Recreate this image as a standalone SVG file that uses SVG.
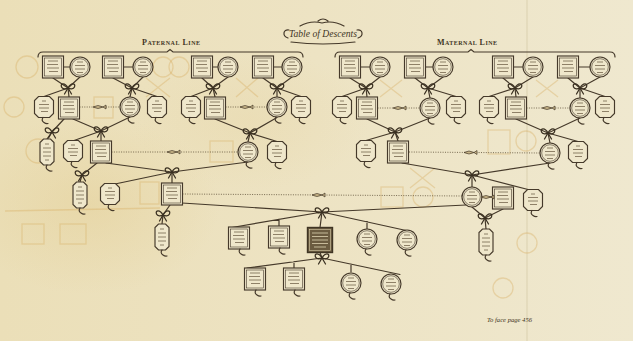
<svg xmlns="http://www.w3.org/2000/svg" xmlns:xlink="http://www.w3.org/1999/xlink" width="633" height="341" viewBox="0 0 633 341">
<style>
.ln{stroke:#45392a;stroke-width:1.2;fill:none;stroke-linecap:round}
.kn{stroke:#3a3021;stroke-width:1.25;fill:none;stroke-linecap:round}
.dt{stroke:#5a4c35;stroke-width:0.8;stroke-dasharray:1 1.4;fill:none}
.sh{fill:#efe7cb;stroke:#45392a;stroke-width:1.15}
.in{fill:none;stroke:#45392a;stroke-width:0.6}
.tx{stroke:#5e4e35;stroke-width:0.9;opacity:0.75;fill:none}
.gh{fill:none;stroke:#d8ad60;stroke-width:1.3;opacity:0.38}
.hd{font-family:"Liberation Serif","DejaVu Serif",serif;font-variant:small-caps;font-weight:bold;font-size:8px;fill:#3f3524}
.it{font-family:"Liberation Serif","DejaVu Serif",serif;font-style:italic;fill:#3f3524}
</style>
<defs>
<linearGradient id="bg" x1="0" x2="1" y1="0" y2="0">
<stop offset="0" stop-color="#ebdfb8"/><stop offset="0.5" stop-color="#ede3c3"/><stop offset="1" stop-color="#efe8cf"/>
</linearGradient>
<radialGradient id="st"><stop offset="0" stop-color="#e3cd92" stop-opacity="0.45"/><stop offset="1" stop-color="#e3cd92" stop-opacity="0"/></radialGradient>
<g id="bx"><rect class="sh" x="-10.5" y="-11" width="21" height="22"/><rect class="in" x="-8.5" y="-9" width="17" height="18"/><path class="tx" d="M-5,-6h10M-6,-2.5h11M-6,1h12M-4,4.5h9"/></g>
<g id="ci"><circle class="sh" r="10"/><circle class="in" r="8.3"/><path class="tx" d="M-3,-5h6M-5,-1.5h10M-5,2h10M-3,5.5h6"/></g>
<g id="oc"><polygon class="sh" points="-5.5,-10.5 5.5,-10.5 9.5,-6.5 9.5,6.5 5.5,10.5 -5.5,10.5 -9.5,6.5 -9.5,-6.5"/><path class="tx" d="M-2,-6h4M-5,-2.5h10M-5,1h10M-3,4.5h7"/></g>
<g id="to"><polygon class="sh" points="-3.5,-13 3.5,-13 7,-9.5 7,9.5 3.5,13 -3.5,13 -7,9.5 -7,-9.5"/><path class="tx" d="M-2,-8h4M-4,-4h8M-4,0h8M-4,4h8M-2,8h4"/></g>
<path id="tl" class="ln" d="M0,0 q-2,3 1,5 q2,1.5 4,1"/>
<path id="kn" class="kn" d="M0,0 C-3,-6 -8,-5 -6.5,-1 C-5.5,1.5 -2,1 0,0 M0,0 C3,-6 8,-5 6.5,-1 C5.5,1.5 2,1 0,0 M0,0 L-3.5,6 M0,0 L3.5,6"/>
<path id="or" d="M-6,0 Q-1,-3 4,0 Q-1,3 -6,0 Z M4,0 L7,-2 L7,2 Z" fill="#c9b689" stroke="#45392a" stroke-width="0.7"/>
</defs>

<rect width="633" height="341" fill="url(#bg)"/>
<ellipse cx="90" cy="205" rx="130" ry="90" fill="url(#st)"/>
<ellipse cx="250" cy="120" rx="120" ry="70" fill="url(#st)" opacity="0.5"/>
<line x1="527" y1="0" x2="527" y2="341" stroke="#d9cfae" stroke-width="2" opacity="0.45"/>

<g id="ghosts">
<circle class="gh" cx="27" cy="67" r="11"/><circle class="gh" cx="163" cy="67" r="10"/><circle class="gh" cx="179" cy="67" r="10"/>
<circle class="gh" cx="14" cy="107" r="10"/><rect class="gh" x="94" y="97" width="19" height="21"/>
<path class="gh" d="M146,78 L170,97 M170,78 L146,97 M236,78 L258,97 M258,78 L236,97 M380,80 L402,97 M402,80 L380,97 M536,80 L558,97 M558,80 L536,97 M410,168 L435,188 M435,168 L410,188 M5,211 L160,208"/>
<circle class="gh" cx="38" cy="151" r="12"/><rect class="gh" x="210" y="141" width="23" height="21"/>
<rect class="gh" x="488" y="130" width="22" height="24"/><circle class="gh" cx="526" cy="141" r="10"/>
<rect class="gh" x="140" y="182" width="19" height="22"/><rect class="gh" x="381" y="187" width="22" height="20"/><circle class="gh" cx="423" cy="197" r="10"/>
<rect class="gh" x="22" y="224" width="22" height="20"/><rect class="gh" x="60" y="224" width="26" height="20"/>
<circle class="gh" cx="527" cy="243" r="10"/><circle class="gh" cx="503" cy="288" r="10"/>
</g>

<g id="titles">
<path class="ln" stroke-width="0.9" d="M288,38 c-6,-2 -5,-9 1,-8 M358,38 c6,-2 5,-9 -1,-8 M300,26 q11,-6 22,-3 q11,-3 22,3 M318,21 q5,-4 10,0 M291,42 q32,4 64,0"/>
<text class="it" x="323" y="37" font-size="10" text-anchor="middle" textLength="68" lengthAdjust="spacingAndGlyphs">Table of Descents</text>
<text class="hd" x="171" y="45" text-anchor="middle" textLength="58" lengthAdjust="spacing">Paternal Line</text>
<text class="hd" x="467" y="45" text-anchor="middle" textLength="60" lengthAdjust="spacing">Maternal Line</text>
<path class="ln" d="M38,57 Q38,52 43,52 L167,52 L170,49.5 L173,52 L298,52 Q303,52 303,57"/>
<path class="ln" d="M335,57 Q335,52 340,52 L468,52 L471,49.5 L474,52 L610,52 Q615,52 615,57"/>
<text class="it" x="487" y="322" font-size="5.5" textLength="45" lengthAdjust="spacingAndGlyphs">To face page 456</text>
</g>

<g id="connectors">
<path class="ln" d="M63.5,67H70M123.5,67H133M212.5,67H218M273.5,67H282M360.5,67H370M425.5,67H433M513.5,67H523M578.5,67H590"/>
<path class="ln" d="M53,78L68,88M80,77L68,88L44,96.5M68,88L69,97
M113,78L132,88M143,77L132,88L130,97M132,88L157,96.5
M202,78L213,88M228,77L213,88L191,96.5M213,88L215,97
M263,78L277,88M292,77L277,88L277,97M277,88L301,96.5
M350,78L366,88M380,77L366,88L342,96.5M366,88L367,97
M415,78L428,88M443,77L428,88L430,98M428,88L456,96.5
M503,78L515,88M533,77L515,88L489,96.5M515,88L516,97
M568,78L580,88M600,77L580,88L580,98M580,88L605,96.5"/>
<path class="ln" d="M64,119L52,132L47,139
M73,119L101,131M130,117L101,131L74,140.5M101,131L101,141
M215,119L250,133M277,117.5L250,133L248,142M250,133L277,141.5
M367,119L395,132M430,118L395,132L366,140.5M395,132L398,141
M516,119L548,133M580,118L548,133L550,143M548,133L578,141.5"/>
<path class="ln" d="M97,163L82,175L80,182
M106,163L172,172M248,162L172,172L115,184M172,172L172,183
M402,163L472,175M550,163L472,175L472,187M472,175L530,190"/>
<path class="ln" d="M170,205L163,215L162,224
M472,207L485,218M503,209L485,218L486,229
M182,203L322,212M466,205L322,212
M322,212L232,227.5M279,219.4L279,226.5M322,212L320,227.5M322,212L413,232M367,221.7L367,229"/>
<path class="ln" d="M320,252.5L322,258M322,258L247,268M294,261.7L294,268M322,258L400,274.5M351,264.2L351,272"/>
<path class="ln" d="M482,197H492.5"/>
<path class="dt" d="M79.5,107H120M225.5,107H267M377.5,108H420M526.5,108H570M111.5,152H238M409,152L540,153M182.5,194L462,196"/>
<use href="#or" x="99" y="107"/><use href="#or" x="246" y="107"/><use href="#or" x="399" y="108"/><use href="#or" x="548" y="108"/>
<use href="#or" x="173" y="152"/><use href="#or" x="470" y="152.5"/><use href="#or" x="318" y="195"/>
<use href="#kn" x="68" y="88"/><use href="#kn" x="132" y="88"/><use href="#kn" x="213" y="88"/><use href="#kn" x="277" y="88"/>
<use href="#kn" x="366" y="88"/><use href="#kn" x="428" y="88"/><use href="#kn" x="515" y="88"/><use href="#kn" x="580" y="88"/>
<use href="#kn" x="52" y="132"/><use href="#kn" x="101" y="131"/><use href="#kn" x="250" y="133"/><use href="#kn" x="395" y="132"/><use href="#kn" x="548" y="133"/>
<use href="#kn" x="82" y="175"/><use href="#kn" x="172" y="172"/><use href="#kn" x="472" y="175"/>
<use href="#kn" x="163" y="215"/><use href="#kn" x="485" y="218"/><use href="#kn" x="322" y="212"/><use href="#kn" x="322" y="258"/>
</g>

<g id="nodes">
<g id="p-b1"><use href="#bx" x="53" y="67"/></g><g id="p-c1"><use href="#ci" x="80" y="67"/></g>
<g id="p-b2"><use href="#bx" x="113" y="67"/></g><g id="p-c2"><use href="#ci" x="143" y="67"/></g>
<g id="p-b3"><use href="#bx" x="202" y="67"/></g><g id="p-c3"><use href="#ci" x="228" y="67"/></g>
<g id="p-b4"><use href="#bx" x="263" y="67"/></g><g id="p-c4"><use href="#ci" x="292" y="67"/></g>
<g id="m-b1"><use href="#bx" x="350" y="67"/></g><g id="m-c1"><use href="#ci" x="380" y="67"/></g>
<g id="m-b2"><use href="#bx" x="415" y="67"/></g><g id="m-c2"><use href="#ci" x="443" y="67"/></g>
<g id="m-b3"><use href="#bx" x="503" y="67"/></g><g id="m-c3"><use href="#ci" x="533" y="67"/></g>
<g id="m-b4"><use href="#bx" x="568" y="67"/></g><g id="m-c4"><use href="#ci" x="600" y="67"/></g>

<g id="p-o1"><use href="#oc" x="44" y="107"/><use href="#tl" x="43" y="117.5"/></g>
<g id="p-b5"><use href="#bx" x="69" y="108"/></g>
<g id="p-c5"><use href="#ci" x="130" y="107"/><use href="#tl" x="129" y="117"/></g>
<g id="p-o2"><use href="#oc" x="157" y="107"/><use href="#tl" x="156" y="117.5"/></g>
<g id="p-o3"><use href="#oc" x="191" y="107"/><use href="#tl" x="190" y="117.5"/></g>
<g id="p-b6"><use href="#bx" x="215" y="108"/></g>
<g id="p-c6"><use href="#ci" x="277" y="107"/><use href="#tl" x="276" y="117"/></g>
<g id="p-o4"><use href="#oc" x="301" y="107"/><use href="#tl" x="300" y="117.5"/></g>
<g id="m-o1"><use href="#oc" x="342" y="107"/><use href="#tl" x="341" y="117.5"/></g>
<g id="m-b5"><use href="#bx" x="367" y="108"/></g>
<g id="m-c5"><use href="#ci" x="430" y="108"/><use href="#tl" x="429" y="118"/></g>
<g id="m-o2"><use href="#oc" x="456" y="107"/><use href="#tl" x="455" y="117.5"/></g>
<g id="m-o3"><use href="#oc" x="489" y="107"/><use href="#tl" x="488" y="117.5"/></g>
<g id="m-b6"><use href="#bx" x="516" y="108"/></g>
<g id="m-c6"><use href="#ci" x="580" y="108"/><use href="#tl" x="579" y="118"/></g>
<g id="m-o4"><use href="#oc" x="605" y="107"/><use href="#tl" x="604" y="117.5"/></g>

<g id="p-t1"><use href="#to" x="47" y="152"/><use href="#tl" x="47" y="165"/></g>
<g id="p-o5"><use href="#oc" x="73" y="151"/><use href="#tl" x="72" y="161.5"/></g>
<g id="p-b7"><use href="#bx" x="101" y="152"/></g>
<g id="p-c7"><use href="#ci" x="248" y="152"/><use href="#tl" x="247" y="162"/></g>
<g id="p-o6"><use href="#oc" x="277" y="152"/><use href="#tl" x="276" y="162.5"/></g>
<g id="m-o5"><use href="#oc" x="366" y="151"/><use href="#tl" x="365" y="161.5"/></g>
<g id="m-b7"><use href="#bx" x="398" y="152"/></g>
<g id="m-c7"><use href="#ci" x="550" y="153"/><use href="#tl" x="549" y="163"/></g>
<g id="m-o6"><use href="#oc" x="578" y="152"/><use href="#tl" x="577" y="162.5"/></g>

<g id="p-t2"><use href="#to" x="80" y="195"/><use href="#tl" x="80" y="208"/></g>
<g id="p-o7"><use href="#oc" x="110" y="194"/><use href="#tl" x="109" y="204.5"/></g>
<g id="p-b8"><use href="#bx" x="172" y="194"/></g>
<g id="m-c8"><use href="#ci" x="472" y="197"/></g>
<g id="m-b8"><use href="#bx" x="503" y="198"/></g>
<g id="m-o7"><use href="#oc" x="533" y="200"/><use href="#tl" x="532" y="210.5"/></g>
<use href="#or" x="487" y="197"/>

<g id="p-t3"><use href="#to" x="162" y="237"/><use href="#tl" x="162" y="250"/></g>
<g id="m-t3"><use href="#to" x="486" y="242"/><use href="#tl" x="486" y="255"/></g>
<g id="s1"><use href="#bx" x="239" y="238"/><use href="#tl" x="240" y="249"/></g>
<g id="s2"><use href="#bx" x="279" y="237"/><use href="#tl" x="280" y="248"/></g>
<g id="s3"><rect x="307.5" y="227.5" width="25" height="25" fill="#6b5c40" stroke="#3f3524" stroke-width="1.4"/><rect x="309.5" y="229.5" width="21" height="21" fill="none" stroke="#d8cca8" stroke-width="0.6"/><path d="M312,233h16M312,236.5h16M312,240h16M312,243.5h16M314,247h12" stroke="#ddd2b0" stroke-width="1" opacity="0.8"/></g>
<g id="s4"><use href="#ci" x="367" y="239"/><use href="#tl" x="366" y="249"/></g>
<g id="s5"><use href="#ci" x="407" y="240"/><use href="#tl" x="406" y="250"/></g>
<g id="s6"><use href="#bx" x="255" y="279"/><use href="#tl" x="256" y="290"/></g>
<g id="s7"><use href="#bx" x="294" y="279"/><use href="#tl" x="295" y="290"/></g>
<g id="s8"><use href="#ci" x="351" y="283"/><use href="#tl" x="350" y="293"/></g>
<g id="s9"><use href="#ci" x="391" y="284"/><use href="#tl" x="390" y="294"/></g>
</g>
</svg>
